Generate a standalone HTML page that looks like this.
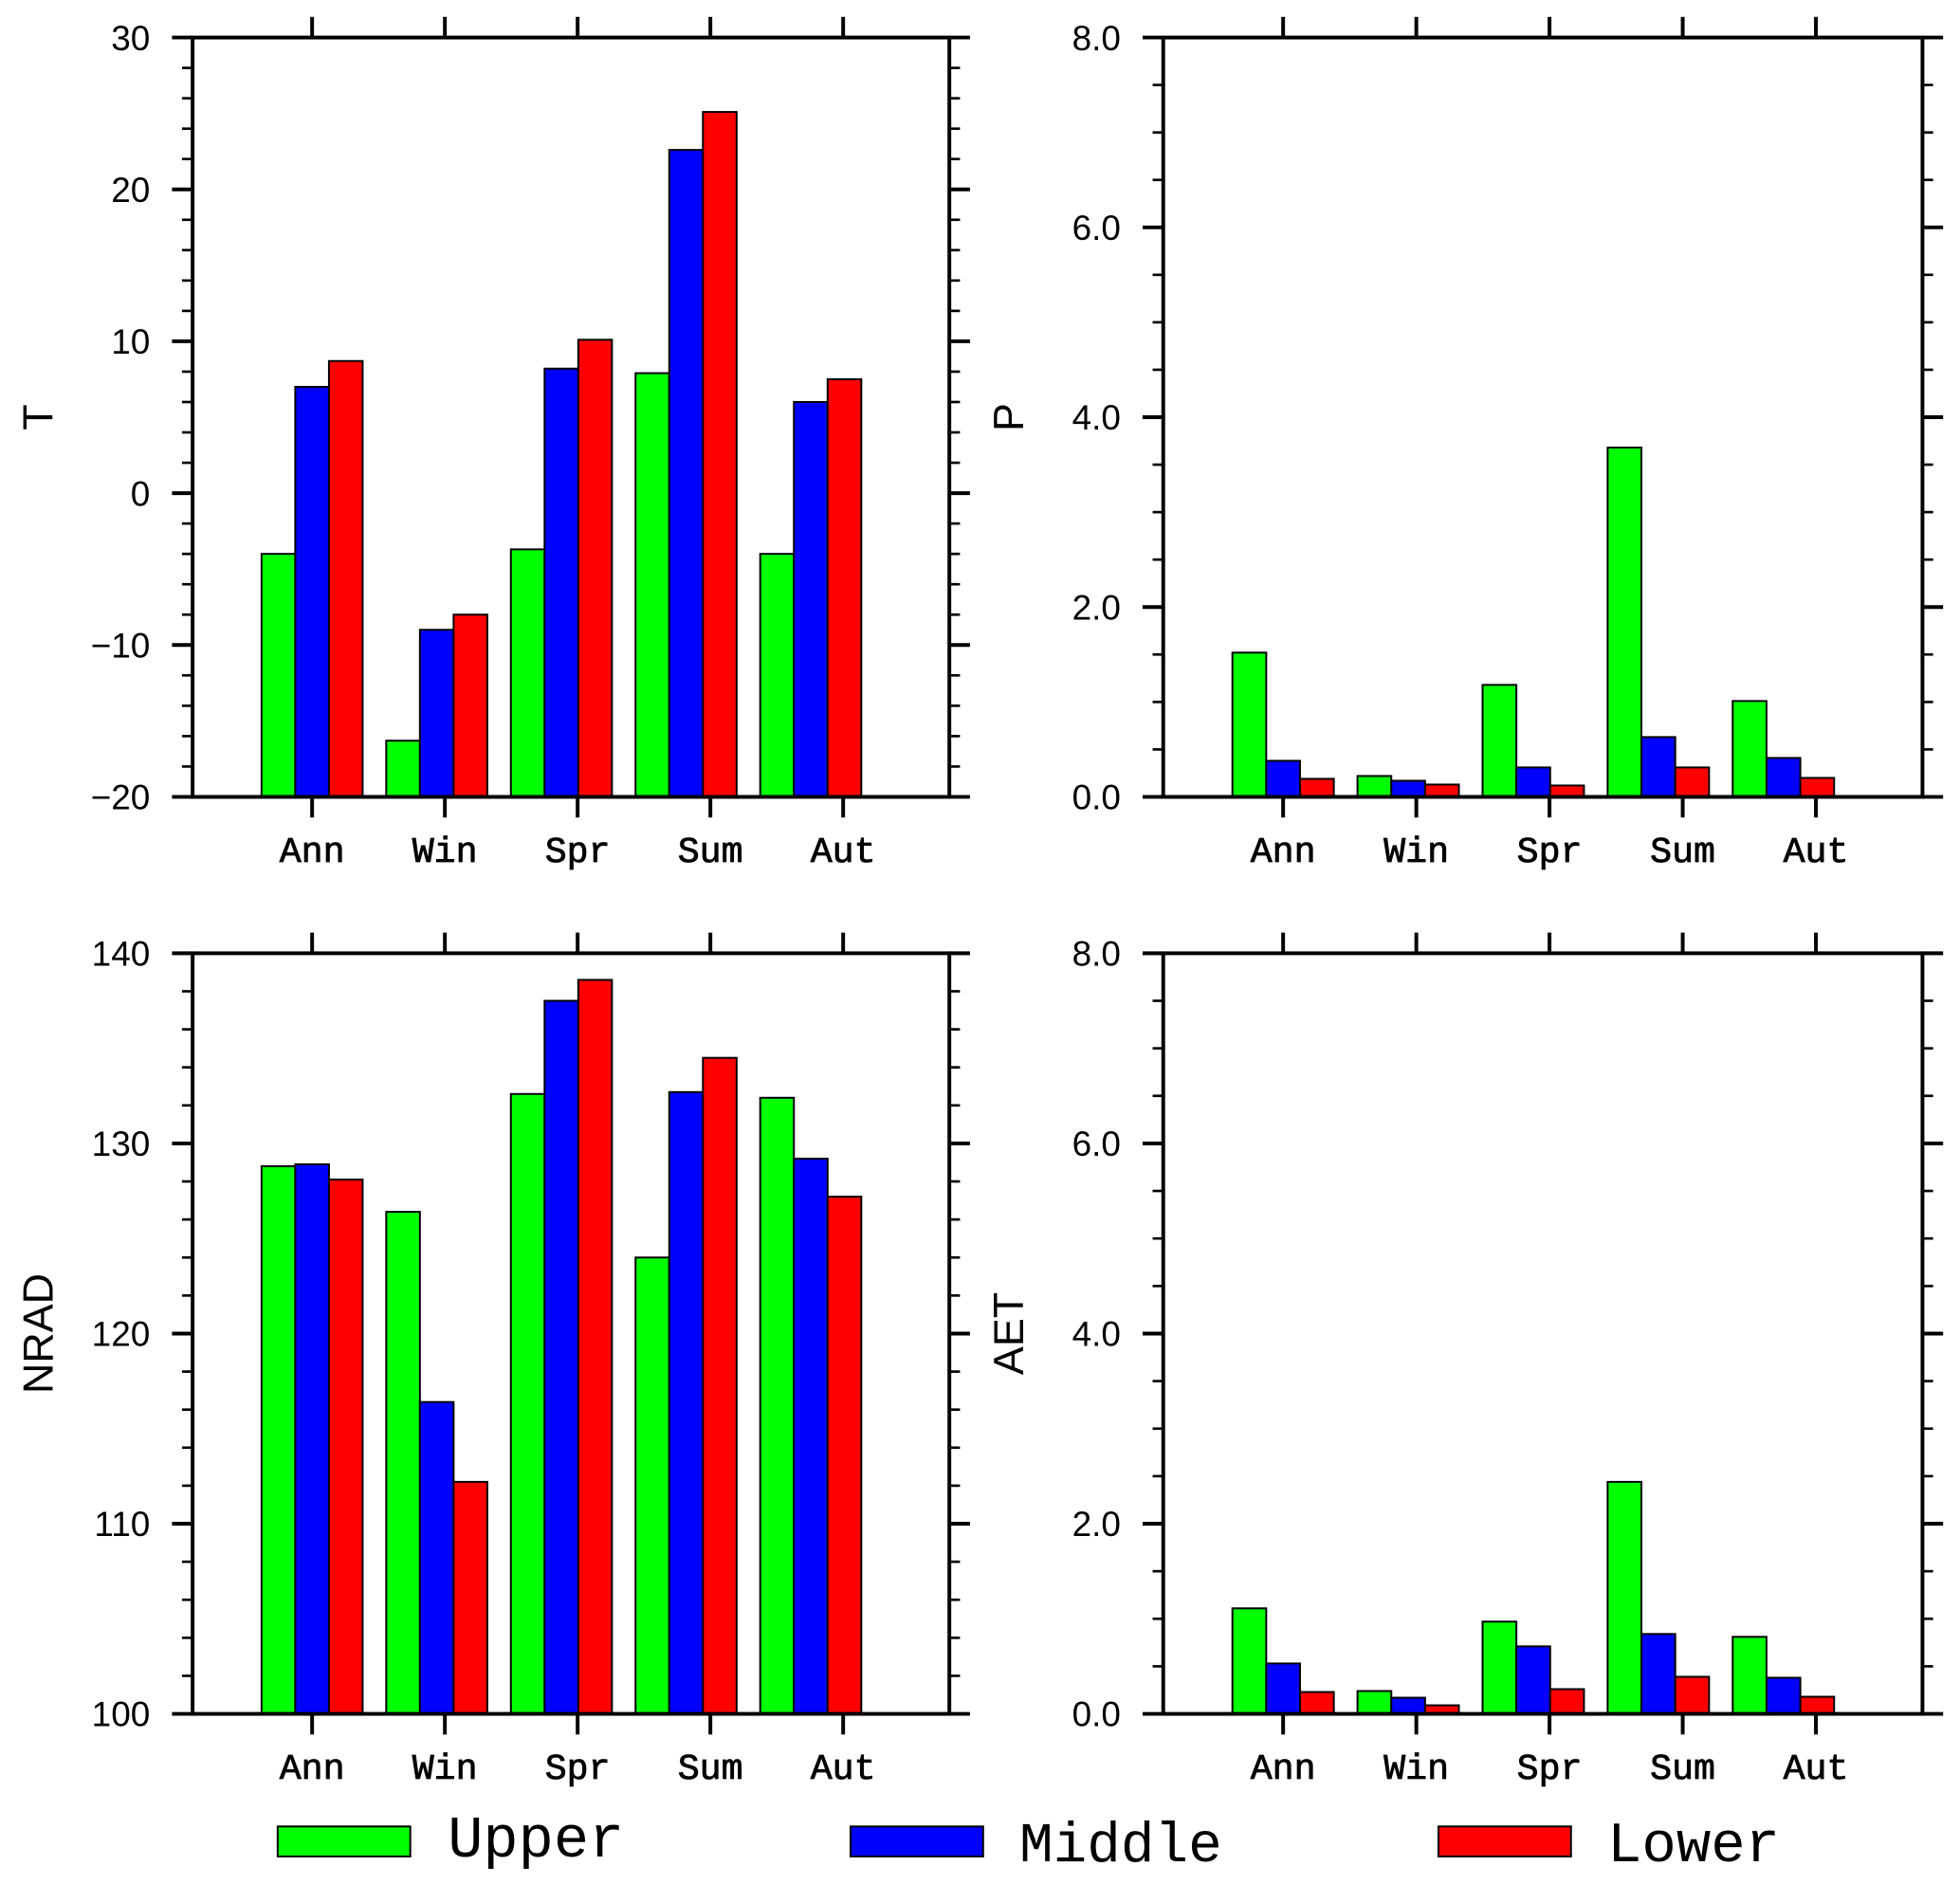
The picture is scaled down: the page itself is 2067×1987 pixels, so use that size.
<!DOCTYPE html>
<html><head><meta charset="utf-8"><style>
html,body{margin:0;padding:0;background:#fff;}
svg{display:block;}
text{fill:#000;}
.num{font-family:"Liberation Sans",sans-serif;}
.cat{font-family:"Liberation Mono",monospace;}
</style></head><body>
<svg id="chart" width="2067" height="1987" viewBox="0 0 1567 1506" preserveAspectRatio="none" xmlns="http://www.w3.org/2000/svg">
<g id="panels"></g>
<g>
<rect x="222" y="1460" width="106" height="24" fill="#00ff00" stroke="#000" stroke-width="1.5"/>
<text class="cat" x="358" y="1484" font-size="47">Upper</text>
<rect x="680" y="1460" width="106" height="24" fill="#0000ff" stroke="#000" stroke-width="1.5"/>
<text class="cat" x="815" y="1488" font-size="45">Middle</text>
<rect x="1150" y="1460" width="106" height="24" fill="#ff0000" stroke="#000" stroke-width="1.5"/>
<text class="cat" x="1285" y="1488" font-size="46">Lower</text>
</g>
</svg>
<script>
const categories = ["Ann","Win","Spr","Sum","Aut"];
const seriesNames = ["Upper","Middle","Lower"];
const seriesColors = ["#00ff00","#0000ff","#ff0000"];
const tUpper = [-4.0,-16.3,-3.7,7.9,-4.0];
const tMiddle = [7.0,-9.0,8.2,22.6,6.0];
const tLower = [8.7,-8.0,10.1,25.1,7.5];
const pUpper = [1.52,0.22,1.18,3.68,1.01];
const pMiddle = [0.38,0.17,0.31,0.63,0.41];
const pLower = [0.19,0.13,0.12,0.31,0.20];
const nUpper = [128.8,126.4,132.6,124.0,132.4];
const nMiddle = [128.9,116.4,137.5,132.7,129.2];
const nLower = [128.1,112.2,138.6,134.5,127.2];
const aUpper = [1.11,0.24,0.97,2.44,0.81];
const aMiddle = [0.53,0.17,0.71,0.84,0.38];
const aLower = [0.23,0.09,0.26,0.39,0.18];
const tTicks = ["−20","−10","0","10","20","30"];
const pTicks = ["0.0","2.0","4.0","6.0","8.0"];
const nTicks = ["100","110","120","130","140"];

const NS="http://www.w3.org/2000/svg";
const root=document.getElementById('panels');
function mk(tag,attrs,parent){const e=document.createElementNS(NS,tag);for(const k in attrs)e.setAttribute(k,attrs[k]);parent.appendChild(e);return e;}

const panels=[
 {name:'t',label:'T',x0:154,x1:759,y0:30,y1:637,ymin:-20,ymax:30,major:10,minor:2,ticks:tTicks,series:[tUpper,tMiddle,tLower]},
 {name:'p',label:'P',x0:930,x1:1537,y0:30,y1:637,ymin:0,ymax:8,major:2,minor:0.5,ticks:pTicks,series:[pUpper,pMiddle,pLower]},
 {name:'nrad',label:'NRAD',x0:154,x1:759,y0:762,y1:1370,ymin:100,ymax:140,major:10,minor:2,ticks:nTicks,series:[nUpper,nMiddle,nLower]},
 {name:'aet',label:'AET',x0:930,x1:1537,y0:762,y1:1370,ymin:0,ymax:8,major:2,minor:0.5,ticks:pTicks,series:[aUpper,aMiddle,aLower]}
];
const barStep=0.939; // bar groups spaced slightly tighter than tick labels (as in source figure)
panels.forEach(p=>{
  const g=mk('g',{},root);
  
  
  const xmin=-0.9, xmax=4.8;
  const xs=v=>p.x0+(v-xmin)/(xmax-xmin)*(p.x1-p.x0);
  const ys=v=>p.y1-(v-p.ymin)/(p.ymax-p.ymin)*(p.y1-p.y0);
  const bw=(xs(1)-xs(0))*barStep/3.7;
  p.series.forEach((s,si)=>{
    s.forEach((v,ci)=>{
      const cx=xs(ci*barStep)+(si-1)*bw;
      const top=ys(v), base=ys(p.ymin);
      const r=mk('rect',{x:cx-bw/2,y:Math.min(top,base),width:bw,height:Math.abs(base-top),fill:seriesColors[si],stroke:'#000','stroke-width':1.5},g);
      
      
    });
  });
  const f=mk('rect',{x:p.x0,y:p.y0,width:p.x1-p.x0,height:p.y1-p.y0,fill:'none',stroke:'#000','stroke-width':3},g);
  
  
  const nMin=Math.round((p.ymax-p.ymin)/p.minor);
  for(let i=0;i<=nMin;i++){
    const v=p.ymin+i*p.minor, y=ys(v);
    const isMaj=Math.abs((v-p.ymin)/p.major-Math.round((v-p.ymin)/p.major))<1e-6;
    const L=isMaj?16.5:8.5, w=isMaj?3:2;
    mk('line',{x1:p.x0-L,y1:y,x2:p.x0,y2:y,stroke:'#000','stroke-width':w},g);
    mk('line',{x1:p.x1,y1:y,x2:p.x1+L,y2:y,stroke:'#000','stroke-width':w},g);
  }
  p.ticks.forEach((t,i)=>{
    const y=ys(p.ymin+i*p.major);
    const tx=mk('text',{class:'num',x:p.x0-34,y:y+10,'font-size':28,'text-anchor':'end'},g);
    tx.textContent=t;
    
    
  });
  categories.forEach((c,ci)=>{
    const x=xs(ci);
    mk('line',{x1:x,y1:p.y0-16.5,x2:x,y2:p.y0,stroke:'#000','stroke-width':3},g);
    mk('line',{x1:x,y1:p.y1,x2:x,y2:p.y1+16.5,stroke:'#000','stroke-width':3},g);
    const tx=mk('text',{class:'cat',x:x,y:p.y1+52,'font-size':29,'text-anchor':'middle',stroke:'#000','stroke-width':0.6},g);
    tx.textContent=c;
    
    
  });
  const cy=(p.y0+p.y1)/2, lx=p.x0-112;
  const yl=mk('text',{class:'num',x:lx,y:cy,'font-size':34,'text-anchor':'middle',transform:'rotate(-90 '+lx+' '+cy+')'},g);
  yl.textContent=p.label;
  
  
});
</script>
</body></html>
